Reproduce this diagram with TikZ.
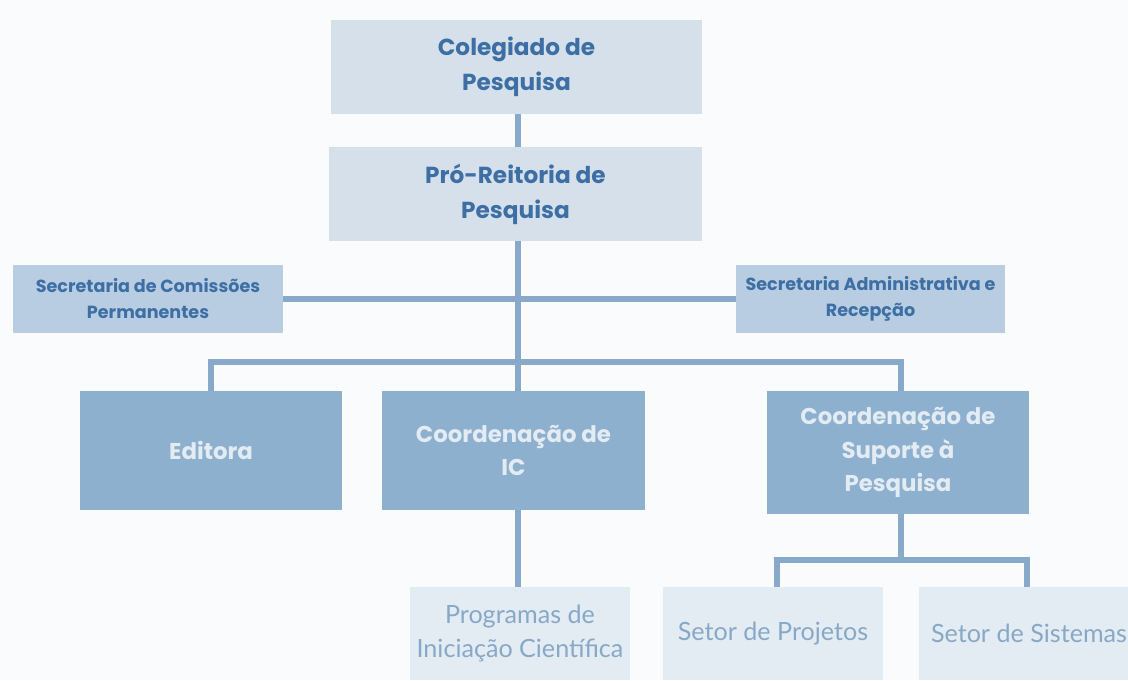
\documentclass[tikz,border=0pt]{standalone}
\usepackage{fontspec}
\setmainfont{Poppins}
\newfontfamily\thinfont{Lato}
\definecolor{pagebg}{HTML}{FAFBFD}
\definecolor{topfill}{HTML}{D5E0EB}
\definecolor{secfill}{HTML}{B8CDE1}
\definecolor{coordfill}{HTML}{8EB0CF}
\definecolor{lowfill}{HTML}{E3EBF3}
\definecolor{darktext}{HTML}{3D6FA4}
\definecolor{lowtext}{HTML}{88A8C8}
\definecolor{linkcol}{HTML}{88A9C9}
\tikzset{
    topbox/.style={fill=topfill, text=darktext, font=\bfseries\fontsize{13.2}{20}\selectfont, align=center, inner sep=0pt},
    secbox/.style={fill=secfill, text=darktext, font=\bfseries\fontsize{10}{14.8}\selectfont, align=center, inner sep=0pt},
    coordbox/.style={fill=coordfill, text=lowfill, font=\bfseries\fontsize{13}{19}\selectfont, align=center, inner sep=0pt},
    lowbox/.style={fill=lowfill, text=lowtext, font=\thinfont\fontsize{14.3}{19.3}\selectfont, align=center, inner sep=0pt},
    link/.style={draw=linkcol, line width=3.4pt}
}
\begin{document}
\begin{tikzpicture}[x=0.02cm, y=-0.02cm]
        \fill[pagebg] (0,0) rectangle (1128,680);
        \clip (0,0) rectangle (1128,680);

        \node[topbox, minimum width=371*0.02cm, minimum height=94*0.02cm] (coleg) at (516.5,67) {Colegiado de\\Pesquisa};
        \node[topbox, minimum width=373*0.02cm, minimum height=94*0.02cm] (prorei) at (515.5,194) {Pró-Reitoria de\\Pesquisa};

        \node[secbox, minimum width=270*0.02cm, minimum height=68*0.02cm] (seccom) at (148,299) {Secretaria de Comissões\\Permanentes};
        \node[secbox, minimum width=269*0.02cm, minimum height=68*0.02cm] (secadm) at (870.5,299) {Secretaria Administrativa e\\Recepção};

        \node[coordbox, minimum width=262*0.02cm, minimum height=119*0.02cm] (editora) at (211,450.5) {Editora};
        \node[coordbox, minimum width=263*0.02cm, minimum height=119*0.02cm] (coordic) at (513.5,450.5) {Coordenação de\\IC};
        \node[coordbox, minimum width=262*0.02cm, minimum height=123*0.02cm] (coordsup) at (898,452.5) {Coordenação de\\Suporte à\\Pesquisa};

        \node[lowbox, minimum width=220*0.02cm, minimum height=93*0.02cm] (progic) at (520,633.5) {Programas de\\Iniciação Científica};
        \node[lowbox, minimum width=220*0.02cm, minimum height=93*0.02cm] (setproj) at (773,633.5) {Setor de Projetos};
        \node[lowbox, minimum width=220*0.02cm, minimum height=93*0.02cm] (setsis) at (1029,633.5) {Setor de Sistemas};

        % tronco
        \coordinate (trunk) at (518,362);
        \coordinate (subtrunk) at (901,560);
        \draw[link] (coleg.south -| trunk) -- (prorei.north -| trunk);
        \draw[link] (prorei.south -| trunk) -- (coordic.north -| trunk);
        \draw[link] (seccom.east) -- (secadm.west);
        \draw[link] (editora.north) |- (trunk) -| (coordsup.north -| subtrunk);
        \draw[link] (coordic.south -| trunk) -- (progic.north -| trunk);

        \draw[link] (coordsup.south -| subtrunk) -- (subtrunk);
        \draw[link] (setproj.north -| 777,0) |- (subtrunk) -| (setsis.north -| 1027,0);
    \end{tikzpicture}
\end{document}
